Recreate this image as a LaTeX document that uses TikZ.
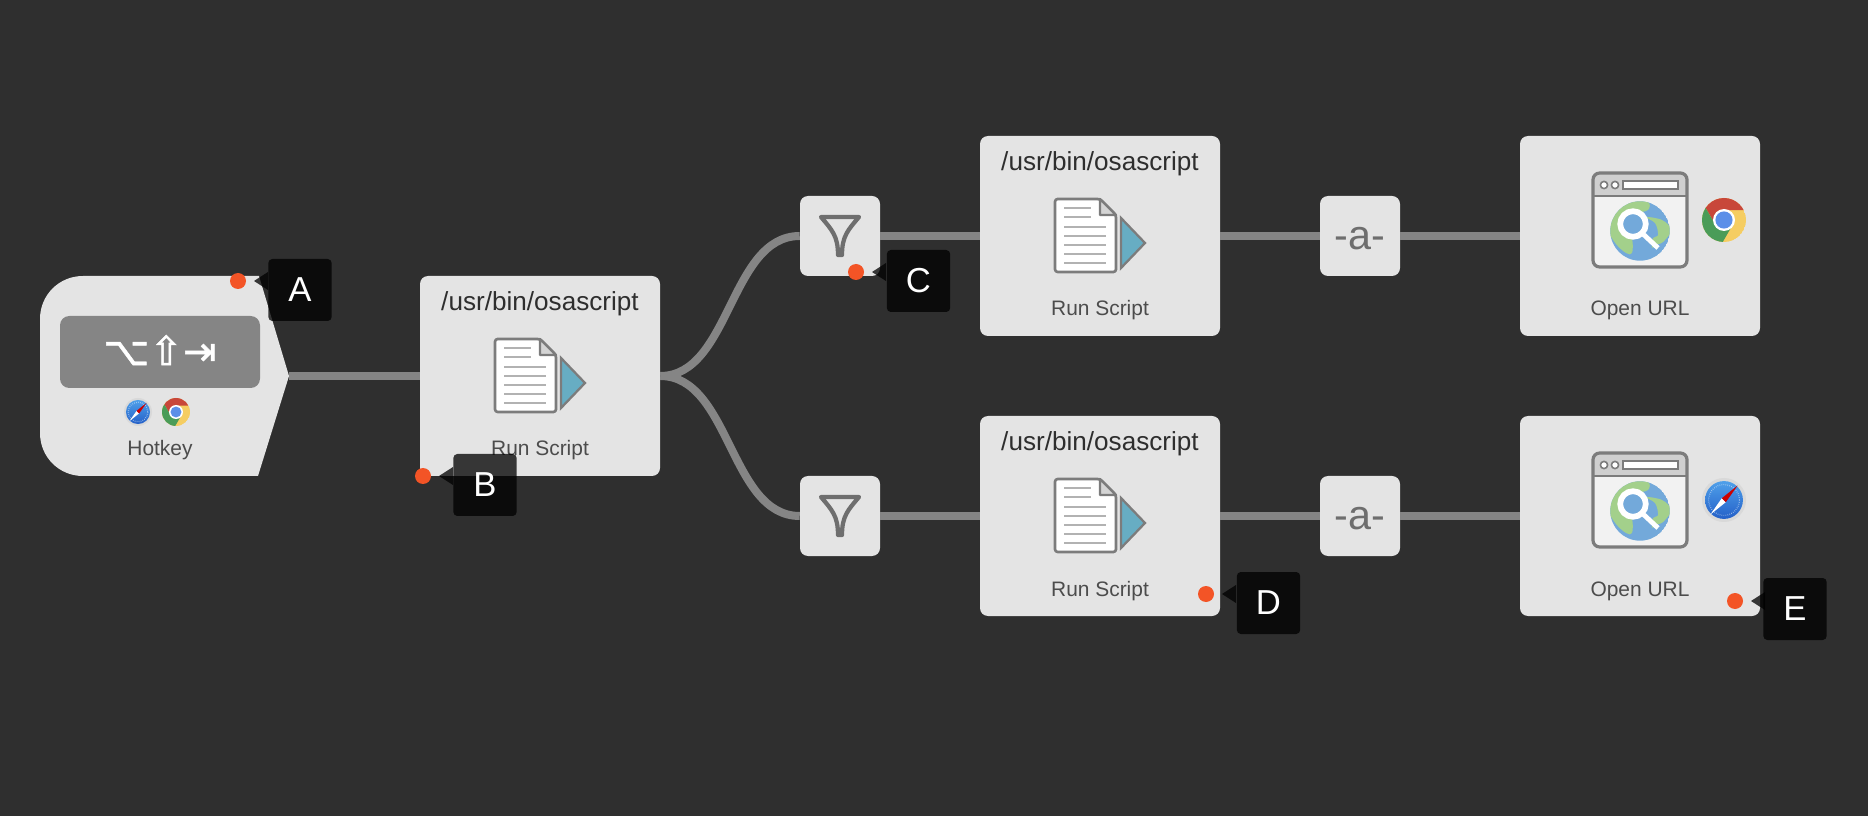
\documentclass[tikz,border=0pt]{standalone}
\usepackage{fontspec}
\setmainfont{Liberation Sans}
\newfontfamily\keyfont[FakeBold=1.2]{DejaVu Sans}
\definecolor{bgdark}{HTML}{2F2F2F}
\definecolor{cardgray}{HTML}{E4E4E4}
\definecolor{wiregray}{HTML}{858585}
\definecolor{icongray}{HTML}{7C7C7C}
\definecolor{funnelgray}{HTML}{6E6E6E}
\definecolor{dotred}{HTML}{F35426}
\definecolor{scriptblue}{HTML}{67ADC3}
\definecolor{globeblue}{HTML}{73A9DA}
\definecolor{landgreen}{HTML}{A3D08B}
\definecolor{chromered}{HTML}{C8473A}
\definecolor{chromegreen}{HTML}{4A9C58}
\definecolor{chromeyellow}{HTML}{F5CD62}
\definecolor{chromeblue}{HTML}{5B8FE8}
\definecolor{safaritop}{HTML}{4FA0EA}
\definecolor{safaribot}{HTML}{2460C8}
\tikzset{
  cardbox/.style={fill=cardgray,rounded corners=6pt,minimum width=180pt,minimum height=150pt,inner sep=0pt},
  smallbox/.style={fill=cardgray,rounded corners=6pt,minimum width=60pt,minimum height=60pt,inner sep=0pt},
  wire/.style={draw=wiregray,line width=6pt},
  pathlabel/.style={anchor=base,inner sep=0pt,text=black!82,font=\fontsize{19.6}{22}\selectfont},
  cardlabel/.style={anchor=base,inner sep=0pt,text=black!70,font=\fontsize{15.7}{18}\selectfont},
  reddot/.style={circle,fill=dotred,minimum size=12pt,inner sep=0pt},
  tipbox/.style={fill=black,fill opacity=.76,text opacity=1,text=white,rounded corners=3pt,minimum width=47.5pt,minimum height=46.5pt,inner sep=0pt,font=\fontsize{26}{28}\selectfont},
  tipwedge/.style={fill=black,fill opacity=.76},
  scripticon/.pic={
    \draw[icongray,fill=white,line width=2pt,line join=round,rounded corners=2pt] (-45,-37) -- (0,-37) -- (16,-21) -- (16,36) -- (-45,36) -- cycle;
    \draw[icongray,fill=black!17,line width=1.8pt,line join=round] (0,-37) -- (16,-21) -- (0,-21) -- cycle;
    \foreach \ya in {-28,-19} \draw[black!30,line width=1.1pt] (-36,\ya) -- (-9,\ya);
    \foreach \yb in {-9,0,9,18,27} \draw[black!30,line width=1.1pt] (-36,\yb) -- (6,\yb);
    \draw[icongray,fill=scriptblue,line width=1.7pt,line join=miter] (21,-18) -- (45,7) -- (21,32) -- cycle;
  },
  urlicon/.pic={
    \fill[black!5,rounded corners=5pt] (-47,-47) rectangle (47,47);
    \begin{scope}
      \clip[rounded corners=5pt] (-47,-47) rectangle (47,47);
      \fill[black!19] (-47,-47) rectangle (47,-24);
      \draw[icongray,line width=1.7pt] (-47,-24) -- (47,-24);
    \end{scope}
    \draw[icongray,line width=2.4pt,rounded corners=5pt] (-47,-47) rectangle (47,47);
    \foreach \xc in {-36,-25} \draw[icongray,fill=white,line width=1.2pt] (\xc,-35) circle (3.6);
    \draw[icongray,fill=white,line width=1.5pt] (-17,-39) rectangle (38,-31);
    \begin{scope}
      \clip (0,11) circle (29.7);
      \fill[globeblue] (0,11) circle (29.7);
      \fill[landgreen] plot[smooth cycle,tension=.6] coordinates {(-30,-3) (-24,-15) (-8,-19) (8,-18) (8,-10) (-5,-5) (-15,12) (-8,19) (-8,33) (-14,33) (-24,24) (-32,10)};
      \fill[landgreen] plot[smooth cycle,tension=.6] coordinates {(5,-3) (22,0) (31,10) (23,22) (15,25) (12,28) (13,18) (18,15) (15,3)};
    \end{scope}
    \draw[white,line width=3.6pt,line cap=butt] (3,14) -- (18,28);
    \draw[white,fill=globeblue,line width=4.3pt] (-7,4) circle (12.8);
  },
  chromeicon/.pic={
    \begin{scope}
      \clip (0,0) circle (1);
      \fill[chromeyellow] (0,0) circle (1);
      \fill[chromered] (0,-.45) -- (1.2,-.45) -- (1.2,-1.2) -- (-1.21,-1.2) -- (-.39,.225) -- cycle;
      \fill[chromegreen] (-.39,.225) -- (-1.21,-1.2) -- (-1.3,-1.2) -- (-1.3,1.3) -- (-.23,1.3) -- (.39,.225) -- cycle;
    \end{scope}
    \fill[white] (0,0) circle (.5);
    \fill[chromeblue] (0,0) circle (.39);
  },
  safariicon/.pic={
    \fill[black!15] (0,0) circle (1);
    \shade[top color=safaritop,bottom color=safaribot] (0,0) circle (.86);
    \draw[white,line width=.9pt,dash pattern=on .4pt off 1.1pt,opacity=.6] (0,0) circle (.7);
    \fill[white] (-.62,.66) -- (-.1,-.08) -- (.08,.1) -- cycle;
    \fill[red!80!black] (.62,-.66) -- (-.1,-.08) -- (.08,.1) -- cycle;
  },
}
\newcommand{\tipwedgeat}[1]{\fill[tipwedge] (#1.center) ++(16,0) -- ++(14,-9) -- ++(0,18) -- cycle;}
\begin{document}
\begin{tikzpicture}[x=0.75pt,y=0.75pt,yscale=-1,xscale=1,every pic/.style={yscale=-1}]
\useasboundingbox (0,0) rectangle (1868,816);
\fill[bgdark] (0,0) rectangle (1868,816);

%Hotkey trigger
\fill[cardgray] (259,276) -- (289,376) -- (258,476) -- (83,476) .. controls (59,476) and (40,457) .. (40,433) -- (40,319) .. controls (40,295) and (59,276) .. (83,276) -- cycle;
\coordinate (hotkeyTip) at (289,376);
\fill[black!48,rounded corners=7pt] (60,316) rectangle (260,388);
\node[inner sep=0pt,text=white,font=\keyfont\fontsize{30}{32}\selectfont] (hotkeyKeys) at (160,350) {⌥⇧⇥};
\pic[scale=14] at (138,412) {safariicon};
\pic[scale=14] at (176,412) {chromeicon};
\node[cardlabel] (hotkeyLabel) at (160,456) {Hotkey};

%Cards
\node[cardbox] (scriptIn) at (540,376) {};
\node[smallbox] (filterTop) at (840,236) {};
\node[smallbox] (filterBot) at (840,516) {};
\node[cardbox] (scriptTop) at (1100,236) {};
\node[cardbox] (scriptBot) at (1100,516) {};
\node[smallbox] (argTop) at (1360,236) {};
\node[smallbox] (argBot) at (1360,516) {};
\node[cardbox] (urlTop) at (1640,236) {};
\node[cardbox] (urlBot) at (1640,516) {};

%Connectors
\draw[wire] (hotkeyTip) -- (scriptIn.west);
\draw[wire] (scriptIn.east) .. controls +(70,0) and +(-70,0) .. (filterTop.west);
\draw[wire] (scriptIn.east) .. controls +(70,0) and +(-70,0) .. (filterBot.west);
\draw[wire] (filterTop.east) -- (scriptTop.west);
\draw[wire] (filterBot.east) -- (scriptBot.west);
\draw[wire] (scriptTop.east) -- (argTop.west);
\draw[wire] (scriptBot.east) -- (argBot.west);
\draw[wire] (argTop.east) -- (urlTop.west);
\draw[wire] (argBot.east) -- (urlBot.west);

%Card contents
\foreach \nm/\xa/\ya in {In/540/376,Top/1100/236,Bot/1100/516}{
  \node[pathlabel] (path\nm) at (\xa,\ya-65) {/usr/bin/osascript};
  \pic at (\xa,\ya) {scripticon};
  \node[cardlabel] (run\nm) at (\xa,\ya+80) {Run Script};
}
\foreach \nm/\yb in {Top/236,Bot/516}{
  \draw[funnelgray,line width=3.2pt,line join=round,line cap=round] (821,\yb-19) -- (859,\yb-19) .. controls (848,\yb-6) and (842,\yb) .. (842,\yb+19) -- (838,\yb+19) .. controls (838,\yb) and (832,\yb-6) .. (821,\yb-19) -- cycle;
  \node[anchor=base,inner sep=0pt,text=funnelgray,font=\fontsize{31}{34}\selectfont] (arg\nm Text) at (1360,\yb+14) {-a-};
  \pic at (1640,\yb-16) {urlicon};
  \node[cardlabel] (open\nm) at (1640,\yb+80) {Open URL};
}
\pic[scale=22] at (1724,220) {chromeicon};
\pic[scale=22] at (1724,500) {safariicon};

%Markers with their tips
\node[reddot] (dotA) at (238,281) {};
\node[reddot] (dotB) at (423,476) {};
\node[reddot] (dotC) at (856,272) {};
\node[reddot] (dotD) at (1206,594) {};
\node[reddot] (dotE) at (1735,601) {};
\tipwedgeat{dotA}
\tipwedgeat{dotB}
\tipwedgeat{dotC}
\tipwedgeat{dotD}
\tipwedgeat{dotE}
\node[tipbox] (tipA) at (300,290) {A};
\node[tipbox] (tipB) at (485,485) {B};
\node[tipbox] (tipC) at (918.5,281) {C};
\node[tipbox] (tipD) at (1268.5,603) {D};
\node[tipbox] (tipE) at (1795,609) {E};

\end{tikzpicture}
\end{document}
